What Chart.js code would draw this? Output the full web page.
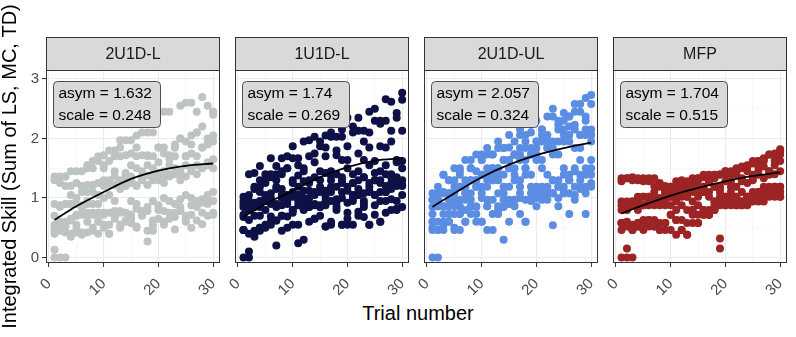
<!DOCTYPE html>
<html>
<head>
<meta charset="utf-8">
<script src="https://cdn.jsdelivr.net/npm/chart.js@4.4.1/dist/chart.umd.min.js"></script>
<style>
  body { margin: 0; background: #fff; }
  #wrap { position: relative; width: 796px; height: 337px; overflow: hidden; font-family: "Liberation Sans", Arial, sans-serif; }
  #wrap canvas { position: absolute; top: 0; }
  #xtitle { position: absolute; left: 268px; width: 300px; top: 303px; text-align: center; font-size: 20px; line-height: 20px; color: #000; }
</style>
</head>
<body>
<div id="wrap">
  <div id="xtitle">Trial number</div>
</div>
<script>
// values
const trials = [1,2,3,4,5,6,7,8,9,10,11,12,13,14,15,16,17,18,19,20,21,22,23,24,25,26,27,28,29,30];
const panelNames = ['2U1D-L', '1U1D-L', '2U1D-UL', 'MFP'];
const asymVals = ['1.632', '1.74', '2.057', '1.704'];
const scaleVals = ['0.248', '0.269', '0.324', '0.515'];
const pointColors = ['#BEC3C3', '#0E1146', '#5B8DE3', '#9C2424'];
const xTicks = [0, 5, 10, 15, 20, 25, 30];
const yTicks = [0, 0.5, 1, 1.5, 2, 2.5, 3];

// fitted curve, read at a few trials
const fitX = [1, 5, 10, 15, 20, 25, 30];
const fit2U1DL  = [0.63, 0.86, 1.10, 1.32, 1.46, 1.54, 1.58];
const fit1U1DL  = [0.68, 0.90, 1.12, 1.35, 1.52, 1.63, 1.67];
const fit2U1DUL = [0.85, 1.08, 1.35, 1.56, 1.72, 1.84, 1.93];
const fitMFP    = [0.74, 0.88, 1.04, 1.17, 1.28, 1.37, 1.43];

// one row per participant, one value per trial
const skill2U1DL = [
  [1.36,1.36,1.36,1.45,1.45,1.20,1.55,1.62,1.62,1.72,1.80,1.80,1.85,1.97,1.97,2.05,2.10,2.10,2.25,2.45,2.45,2.45,1.85,2.55,2.60,2.60,2.45,2.70,2.55,2.45],
  [1.30,1.25,1.36,1.20,1.25,1.45,1.50,1.50,1.70,1.55,1.62,1.70,1.97,1.72,1.75,1.70,1.72,1.72,2.10,1.85,1.85,1.72,1.90,2.00,1.95,2.05,2.10,2.20,2.00,2.40],
  [0.90,0.88,1.20,1.05,0.90,1.20,1.22,1.10,1.25,1.30,1.22,1.36,1.30,1.42,1.36,1.50,1.36,1.55,1.70,1.60,1.45,1.65,1.70,1.36,1.70,1.75,1.55,1.85,1.90,1.95],
  [0.70,0.85,0.90,0.90,1.00,0.85,1.10,1.22,0.90,1.20,1.30,1.22,1.25,1.30,1.30,1.20,1.36,1.38,1.30,1.42,1.36,1.40,1.50,1.45,1.36,1.50,1.70,1.52,1.60,1.65],
  [0.55,0.60,0.90,0.65,0.72,0.75,0.90,0.90,0.75,1.00,1.05,0.75,1.15,1.20,1.25,1.22,1.30,1.22,1.36,1.30,1.25,1.36,1.40,1.30,1.55,1.45,1.40,1.50,1.55,1.50],
  [0.50,0.52,0.55,0.62,0.70,0.88,0.75,0.75,0.62,0.72,0.75,0.95,0.78,0.75,0.95,0.82,0.78,0.85,0.95,0.88,1.00,0.95,0.90,0.98,1.05,1.00,0.95,0.98,1.05,1.10],
  [0.45,0.55,0.60,0.40,0.48,0.72,0.60,0.72,0.60,0.75,0.55,0.70,0.75,0.62,0.72,0.90,0.70,0.78,0.62,0.82,0.78,0.95,0.75,0.85,0.70,0.88,0.62,0.92,0.95,0.75],
  [0.40,0.55,0.42,0.40,0.42,0.38,0.42,0.45,0.40,0.55,0.40,0.65,0.50,0.60,0.65,0.52,0.72,0.45,0.55,0.65,0.55,0.75,0.68,0.80,0.62,0.72,0.85,0.75,0.90,0.72],
  [0.13,0.45,0.52,0.35,0.55,0.42,0.70,0.50,0.75,0.50,0.40,0.78,0.55,0.75,0.58,0.50,0.75,0.27,0.45,0.80,0.60,0.65,0.47,0.78,0.60,0.50,0.95,0.56,0.70,0.95],
  [0.00,0.00,0.00,0.90,0.70,1.10,0.95,1.22,1.05,1.50,1.25,1.45,1.70,1.36,1.55,1.85,1.45,1.70,1.50,1.85,1.75,1.55,1.85,2.00,1.70,1.90,2.10,1.85,1.98,2.05]
];
const skill1U1DL = [
  [1.02,1.05,1.15,1.30,1.40,1.67,1.40,1.67,1.70,1.87,1.67,1.95,1.97,2.03,1.87,2.05,2.10,2.03,2.15,2.35,2.20,2.35,2.13,2.45,2.50,2.30,2.66,2.62,2.43,2.77],
  [0.90,0.95,1.19,1.10,1.25,1.35,1.54,1.45,1.50,1.67,1.55,1.45,1.70,1.75,1.95,1.85,2.03,1.80,2.03,1.87,2.10,2.13,1.95,2.10,2.30,2.25,2.30,2.13,2.35,2.65],
  [0.85,1.40,1.42,1.54,1.30,1.40,1.19,1.40,1.50,1.30,1.38,1.50,1.30,1.60,1.45,1.70,1.45,1.72,1.64,1.64,1.40,1.75,1.64,1.85,1.62,1.87,1.85,1.95,1.64,2.13],
  [0.68,0.85,0.90,1.19,1.00,1.08,1.30,1.15,1.05,1.25,1.05,1.28,1.12,1.35,1.19,1.42,1.30,1.40,1.30,1.50,1.25,1.45,1.35,1.55,1.30,1.45,1.55,1.40,1.60,1.62],
  [0.46,0.88,0.92,0.95,1.05,0.90,1.15,1.00,1.05,1.10,1.19,0.90,1.25,1.05,1.30,1.12,1.38,1.19,1.35,1.19,1.25,1.05,1.35,1.19,1.42,1.30,1.40,1.19,1.35,1.50],
  [0.46,0.80,0.85,0.70,0.95,1.00,0.85,1.05,0.90,1.02,0.88,1.12,0.90,1.10,0.88,1.02,1.10,0.95,1.10,1.12,1.05,1.15,0.95,1.25,1.05,1.25,1.10,1.25,1.20,1.30],
  [0.46,0.63,0.70,0.50,0.80,0.69,0.90,0.70,0.95,0.80,0.95,1.00,0.85,0.90,0.85,0.52,0.95,0.92,1.00,0.75,1.00,1.05,0.85,1.10,1.05,0.95,1.10,1.15,0.95,1.20],
  [0.95,0.40,0.45,0.50,0.55,0.60,0.20,0.70,0.69,0.75,0.55,0.82,0.85,0.65,0.85,0.88,0.60,0.85,0.55,0.92,0.95,0.77,0.90,0.55,0.88,0.60,0.95,0.98,0.80,1.05],
  [0.00,0.10,0.40,0.45,0.50,0.55,0.62,0.45,0.50,0.55,0.24,0.30,0.60,0.65,0.70,0.52,0.55,0.80,0.55,0.65,0.55,0.70,0.68,0.55,0.72,0.60,0.75,0.80,0.82,0.85],
  [0.72,0.00,0.35,0.85,0.52,0.95,0.62,0.88,1.00,0.80,1.05,0.80,1.00,0.88,1.10,0.95,1.19,0.98,1.25,0.55,1.05,1.30,1.08,1.12,1.30,1.10,1.20,1.35,1.25,1.22]
];
const skill2U1DUL = [
  [0.97,1.08,1.39,1.30,1.50,1.39,1.64,1.50,1.73,1.64,1.84,1.73,1.95,1.84,2.06,1.95,2.15,2.06,2.23,2.30,2.15,2.37,2.50,2.30,2.43,2.37,2.58,2.45,2.68,2.73],
  [0.85,1.19,1.10,1.30,1.19,1.45,1.30,1.64,1.45,1.73,1.73,1.50,1.84,1.64,1.85,1.73,2.06,1.84,2.10,1.95,2.15,2.06,2.37,2.15,2.30,2.20,2.45,2.58,2.30,2.58],
  [0.60,0.97,1.39,1.08,1.30,1.50,1.19,1.50,1.30,1.64,1.39,1.73,1.50,1.84,1.64,1.73,1.84,1.95,1.73,1.95,2.06,1.84,1.95,2.23,2.15,2.37,2.23,2.06,2.37,2.15],
  [0.00,0.97,0.86,1.08,0.97,1.19,1.08,1.30,1.19,1.39,1.30,1.50,1.39,1.64,1.50,1.73,1.64,1.50,1.73,1.84,1.64,1.95,1.84,1.73,1.95,2.06,1.84,2.06,2.15,1.95],
  [1.08,0.86,0.73,0.97,1.08,0.86,1.19,0.97,1.30,1.08,1.19,1.39,1.30,1.19,1.50,1.39,1.30,1.50,1.39,1.64,1.50,1.39,1.30,1.30,1.50,1.39,1.45,1.64,1.50,1.64],
  [0.97,0.60,0.60,0.73,0.86,0.73,0.97,1.08,0.86,1.19,0.97,1.30,1.08,0.97,1.19,1.30,1.19,1.39,1.19,1.08,1.19,1.08,1.30,1.19,1.39,1.30,1.50,1.39,1.19,1.50],
  [0.60,0.46,0.86,0.60,0.73,0.97,0.60,0.86,0.73,1.00,0.86,0.97,0.73,1.08,0.97,0.86,1.08,0.97,1.08,1.19,0.97,1.19,1.08,1.19,1.08,1.30,1.19,1.30,1.39,1.39],
  [0.46,0.00,0.46,0.60,0.50,0.73,0.80,0.86,0.85,0.60,0.46,0.73,0.80,0.85,0.90,0.97,1.00,0.60,0.95,1.00,1.05,1.10,0.54,1.00,1.10,0.73,1.05,1.15,0.73,1.19],
  [0.50,0.46,0.55,0.73,0.46,0.46,0.60,0.73,0.60,0.60,0.86,0.46,0.86,0.30,0.60,0.97,0.73,0.60,0.97,0.86,1.08,0.97,1.08,0.86,1.19,1.08,0.97,1.19,1.08,1.25],
  [0.73,0.86,1.08,0.86,0.97,1.19,1.08,1.30,1.19,1.39,1.50,1.30,1.50,1.39,1.64,1.50,1.73,1.64,1.84,1.73,1.95,1.84,1.73,1.95,2.06,1.95,2.15,1.84,2.06,2.06]
];
const skillMFP = [
  [1.33,1.33,1.35,1.30,1.33,1.28,1.33,1.25,1.20,1.19,1.28,1.30,1.28,1.33,1.30,1.39,1.35,1.39,1.40,1.45,1.45,1.50,1.53,1.55,1.62,1.62,1.67,1.73,1.75,1.82],
  [1.28,1.33,1.30,1.33,1.28,1.33,1.20,1.19,1.10,1.10,1.19,1.25,1.20,1.28,1.33,1.35,1.39,1.33,1.39,1.45,1.40,1.45,1.50,1.53,1.58,1.62,1.65,1.73,1.70,1.78],
  [0.88,0.94,0.88,1.02,0.88,1.02,1.10,0.94,1.10,1.19,1.02,1.28,1.10,1.19,1.33,1.19,1.28,1.39,1.19,1.39,1.28,1.45,1.33,1.53,1.39,1.53,1.62,1.45,1.62,1.73],
  [0.94,0.80,0.94,0.88,1.02,0.88,1.02,0.94,1.10,1.02,0.94,1.19,1.02,1.10,1.19,1.10,1.28,1.19,1.10,1.28,1.19,1.39,1.28,1.45,1.33,1.45,1.53,1.39,1.55,1.62],
  [0.80,0.88,0.94,0.94,1.02,1.02,0.94,1.00,1.02,1.10,1.02,1.10,1.10,1.19,1.10,1.19,1.10,1.19,1.15,1.02,1.10,1.19,1.28,1.25,1.30,1.39,1.33,1.45,1.40,1.45],
  [0.58,0.60,0.88,0.80,0.88,0.94,0.88,0.94,0.88,1.02,1.10,1.02,1.02,0.94,1.02,1.10,1.02,0.94,1.02,1.02,0.94,1.02,1.10,1.02,1.02,1.10,1.19,1.10,1.19,1.19],
  [0.58,0.58,0.55,0.58,0.63,0.52,0.63,0.88,0.94,0.88,0.80,0.88,0.80,0.80,0.88,0.72,0.80,0.94,0.88,0.94,0.88,0.88,0.94,1.02,1.10,1.02,1.10,1.02,1.10,1.02],
  [0.46,0.52,0.46,0.58,0.52,0.63,0.52,0.58,0.58,0.46,0.63,0.63,0.58,0.80,0.58,0.72,0.72,0.80,0.94,0.88,0.94,0.88,0.94,0.88,1.02,0.94,1.02,1.10,1.02,1.02],
  [0.00,0.15,0.46,0.52,0.58,0.58,0.52,0.46,0.58,0.72,0.63,0.46,0.38,0.72,0.58,0.80,0.72,0.88,0.15,0.94,1.02,0.94,0.88,1.02,0.94,1.02,0.94,1.10,1.19,1.10],
  [0.58,0.00,0.00,0.52,0.46,0.63,0.58,0.46,0.46,0.72,0.38,0.46,0.38,0.58,0.72,0.80,0.72,0.80,0.32,0.88,0.94,1.02,0.88,0.94,1.02,1.10,1.02,1.19,1.10,1.19]
];

const panelRows = [skill2U1DL, skill1U1DL, skill2U1DUL, skillMFP];
const panelFits = [fit2U1DL, fit1U1DL, fit2U1DUL, fitMFP];

// layout in pixels
const panelLeft = [46, 235, 424, 613];
const panelW = 177;
const stripTop = 37, plotTop = 70, plotBottom = 263, H = 337;
const FONT = '"Liberation Sans", Arial, Helvetica, sans-serif';

const facetPlugin = {
  id: 'facet',
  beforeDraw(chart, args, opts) {
    const a = chart.chartArea, ctx = chart.ctx;
    const l = Math.round(a.left) + 0.5, r = Math.round(a.right) - 0.5;
    ctx.save();
    ctx.fillStyle = '#D9D9D9';
    ctx.fillRect(l, stripTop + 0.5, r - l, a.top - stripTop);
    ctx.strokeStyle = '#333333';
    ctx.lineWidth = 1;
    ctx.strokeRect(l, stripTop + 0.5, r - l, Math.round(a.top) - stripTop);
    ctx.fillStyle = '#1A1A1A';
    ctx.font = '16px ' + FONT;
    ctx.textAlign = 'center';
    ctx.textBaseline = 'middle';
    ctx.fillText(opts.name, (l + r) / 2, (stripTop + a.top) / 2 + 1);
    ctx.restore();
  },
  afterDatasetsDraw(chart, args, opts) {
    const a = chart.chartArea, ctx = chart.ctx;
    const l = Math.round(a.left) + 0.5, r = Math.round(a.right) - 0.5;
    ctx.save();
    ctx.strokeStyle = '#333333';
    ctx.lineWidth = 1;
    ctx.strokeRect(l, Math.round(a.top) + 0.5, r - l, Math.round(a.bottom) - Math.round(a.top) - 1);
    // fit label
    const bx = Math.round(a.left) + 7.5, by = Math.round(a.top) + 11.5, bw = 107, bh = 46;
    ctx.beginPath();
    ctx.roundRect(bx, by, bw, bh, 4);
    ctx.fillStyle = '#D9D9D9';
    ctx.fill();
    ctx.strokeStyle = '#4D4D4D';
    ctx.lineWidth = 1;
    ctx.stroke();
    ctx.fillStyle = '#000';
    ctx.font = '15.5px ' + FONT;
    ctx.textAlign = 'left';
    ctx.textBaseline = 'middle';
    ctx.fillText('asym = ' + opts.asym, bx + 5, by + 12);
    ctx.fillText('scale = ' + opts.scale, bx + 5, by + 34);
    ctx.restore();
  }
};

const isMajorX = v => v % 10 === 0;
const isMajorY = v => Number.isInteger(v);

function makePanel(i) {
  const first = i === 0;
  const padL = first ? 46 : 12;
  const padR = 1;
  const W = padL + panelW + padR;
  const canvas = document.createElement('canvas');
  canvas.width = W;
  canvas.height = H;
  canvas.style.left = (panelLeft[i] - padL) + 'px';
  canvas.style.width = W + 'px';
  canvas.style.height = H + 'px';
  document.getElementById('wrap').appendChild(canvas);

  const points = [];
  panelRows[i].forEach(row => row.forEach((v, k) => points.push({ x: trials[k], y: v })));
  const fitPts = fitX.map((x, k) => ({ x: x, y: panelFits[i][k] }));

  new Chart(canvas, {
    type: 'scatter',
    data: {
      datasets: [
        {
          type: 'line',
          data: fitPts,
          borderColor: '#000000',
          borderWidth: 1.8,
          pointRadius: 0,
          cubicInterpolationMode: 'monotone',
          fill: false,
          order: 0
        },
        {
          data: points,
          backgroundColor: pointColors[i],
          borderWidth: 0,
          pointRadius: 4,
          pointHoverRadius: 4,
          order: 1
        }
      ]
    },
    options: {
      responsive: false,
      animation: false,
      devicePixelRatio: 1,
      layout: { padding: { left: 0, right: padR, top: plotTop, bottom: 0 } },
      plugins: {
        legend: { display: false },
        tooltip: { enabled: false },
        facet: { name: panelNames[i], asym: asymVals[i], scale: scaleVals[i] }
      },
      scales: {
        x: {
          type: 'linear',
          min: -0.55,
          max: 31.25,
          afterBuildTicks: s => { s.ticks = xTicks.map(v => ({ value: v })); },
          afterFit: s => { s.height = H - plotBottom; s.paddingLeft = 0; s.paddingRight = 0; },
          border: { display: false },
          grid: {
            color: c => isMajorX(c.tick.value) ? '#EBEBEB' : '#F4F4F4',
            lineWidth: c => isMajorX(c.tick.value) ? 1.1 : 0.6,
            tickColor: c => isMajorX(c.tick.value) ? '#333333' : 'rgba(0,0,0,0)',
            tickLength: 4,
            tickWidth: 1
          },
          ticks: {
            autoSkip: false,
            minRotation: 45,
            maxRotation: 45,
            padding: 8,
            color: '#4D4D4D',
            font: { size: 15, family: FONT },
            callback: v => isMajorX(v) ? String(v) : ''
          }
        },
        y: {
          type: 'linear',
          min: -0.093,
          max: 3.152,
          afterBuildTicks: s => { s.ticks = yTicks.map(v => ({ value: v })); },
          afterFit: s => { s.width = padL; s.paddingTop = 0; s.paddingBottom = 0; },
          border: { display: false },
          grid: {
            color: c => isMajorY(c.tick.value) ? '#EBEBEB' : '#F4F4F4',
            lineWidth: c => isMajorY(c.tick.value) ? 1.1 : 0.6,
            tickColor: c => first && isMajorY(c.tick.value) ? '#333333' : 'rgba(0,0,0,0)',
            tickLength: first ? 4 : 0,
            drawTicks: first
          },
          ticks: {
            display: first,
            autoSkip: false,
            padding: 3,
            color: '#4D4D4D',
            font: { size: 15, family: FONT },
            callback: v => isMajorY(v) ? String(v) : ''
          },
          title: {
            display: first,
            text: 'Integrated Skill (Sum of LS, MC, TD)',
            color: '#000',
            font: { size: 20, family: FONT, lineHeight: 1 },
            padding: { top: 0, bottom: 0 }
          }
        }
      }
    },
    plugins: [facetPlugin]
  });
}

for (let i = 0; i < 4; i++) makePanel(i);
</script>
</body>
</html>
